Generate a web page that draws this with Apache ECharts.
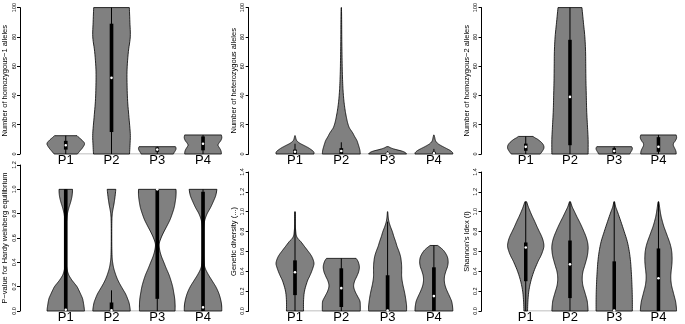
<!DOCTYPE html>
<html>
<head>
<meta charset="utf-8">
<script src="https://cdn.jsdelivr.net/npm/echarts@6/dist/echarts.min.js"></script>
<style>html,body{margin:0;padding:0;background:#fff}#c{width:685px;height:324px}</style>
</head>
<body>
<div id="c"></div>
<script>
// ---------------- DATA ----------------
const categories = ['P1', 'P2', 'P3', 'P4'];

// Violin outlines: [value, relative half-width (1 = widest)]
// Box stats: [lower whisker, Q1, median, Q3, upper whisker]

// Number of homozygous-1 alleles
const hom1P1 = [[0,0.62],[2,0.75],[4,0.88],[6,0.98],[7,1.0],[8,0.97],[10,0.82],[11.5,0.68],[12.5,0.6]];
const hom1P2 = [[0,0.96],[7,0.99],[14,1.0],[25,0.93],[36,0.86],[47,0.83],[58,0.83],[70,0.9],[80,1.0],[90,0.98],[100,0.95]];
const hom1P3 = [[0,0.86],[1,0.9],[2,0.95],[3,0.99],[4,1.0],[5,0.97]];
const hom1P4 = [[0,0.98],[1.5,0.97],[3,0.93],[4.5,0.86],[6,0.8],[7.5,0.85],[9,0.94],[11,1.0],[13,0.98]];
const hom1Box = [[0,3,6,9,12.5],[0,15,52,89,100],[0,1.5,3,4.5,5],[0,2.5,7,12,13]];

// Number of heterozygous alleles
const hetP1 = [[0,1.0],[1,1.0],[2,0.95],[3,0.85],[4,0.74],[5,0.6],[6,0.45],[7,0.3],[8,0.18],[9,0.1],[10,0.06],[11,0.04],[12.5,0.01]];
const hetP2 = [[0,1.0],[2.5,0.98],[5,0.93],[7.5,0.87],[9.3,0.82],[12,0.7],[14,0.62],[16,0.52],[18,0.42],[21,0.34],[25,0.27],[30,0.2],[36,0.14],[42,0.1],[48,0.075],[58,0.05],[70,0.035],[80,0.025],[90,0.02],[100,0.01]];
const hetP3 = [[0,1.0],[1,0.93],[2,0.75],[3,0.45],[4,0.2],[5,0.05]];
const hetP4 = [[0,1.0],[1,0.98],[2,0.9],[3,0.78],[4,0.63],[5,0.48],[6,0.34],[7,0.22],[8,0.14],[9,0.09],[10,0.065],[11.5,0.04],[13,0.01]];
const hetBox = [[0,0,1.5,3,7],[0,0,2,4,8],[0,0,0.3,1,2],[0,0,0.5,1.5,3.5]];

// Number of homozygous-2 alleles
const hom2P1 = [[0,0.8],[2,0.92],[4,1.0],[6,0.98],[8,0.86],[10,0.66],[11,0.52],[12,0.4]];
const hom2P2 = [[0,1.0],[10,1.0],[20,0.96],[30,0.92],[40,0.9],[50,0.88],[60,0.87],[70,0.86],[80,0.82],[90,0.74],[100,0.66]];
const hom2P3 = [[0,0.86],[1,0.9],[2,0.95],[3,0.99],[4,1.0],[5,0.96]];
const hom2P4 = [[0,0.98],[1.5,0.97],[3,0.93],[4.5,0.87],[6,0.82],[7.5,0.84],[9,0.93],[11,1.0],[13,0.98]];
const hom2Box = [[0,2.2,4.9,7.1,12],[0,6,39,78,100],[0,0.5,2,4,5],[0,1.5,4.9,11.5,13]];

// P-value for Hardy weinberg equilibrium
const hweP1 = [[0,1.0],[0.03,0.98],[0.06,0.95],[0.1,0.9],[0.13,0.82],[0.17,0.7],[0.2,0.6],[0.23,0.45],[0.26,0.3],[0.3,0.15],[0.35,0.06],[0.4,0.025],[0.5,0.015],[0.6,0.015],[0.7,0.025],[0.75,0.05],[0.8,0.09],[0.85,0.17],[0.9,0.27],[0.95,0.34],[1.0,0.36]];
const hweP2 = [[0,1.0],[0.03,0.98],[0.07,0.93],[0.1,0.86],[0.14,0.75],[0.18,0.6],[0.22,0.45],[0.26,0.32],[0.3,0.22],[0.35,0.12],[0.4,0.06],[0.45,0.03],[0.55,0.015],[0.7,0.015],[0.78,0.03],[0.82,0.06],[0.87,0.12],[0.93,0.18],[1.0,0.23]];
const hweP3 = [[0,0.95],[0.05,0.95],[0.1,0.93],[0.15,0.88],[0.2,0.82],[0.25,0.73],[0.3,0.62],[0.35,0.48],[0.4,0.35],[0.45,0.22],[0.5,0.13],[0.55,0.1],[0.6,0.2],[0.65,0.35],[0.7,0.52],[0.75,0.68],[0.8,0.8],[0.85,0.9],[0.9,0.96],[0.95,1.0],[1.0,1.0]];
const hweP4 = [[0,1.0],[0.05,0.99],[0.1,0.93],[0.15,0.83],[0.2,0.68],[0.25,0.48],[0.3,0.28],[0.35,0.12],[0.4,0.05],[0.5,0.02],[0.6,0.02],[0.7,0.04],[0.75,0.1],[0.8,0.22],[0.85,0.4],[0.9,0.55],[0.95,0.68],[1.0,0.74]];
const hweBox = [[0,0,0.01,1,1],[0,0,0.005,0.07,0.17],[0,0.1,1.0,1.0,1],[0,0,0.03,0.98,1]];

// Genetic diversity
const gdP1 = [[0,0.45],[0.1,0.45],[0.2,0.5],[0.3,0.65],[0.35,0.77],[0.4,0.88],[0.45,0.97],[0.48,1.0],[0.52,0.95],[0.56,0.85],[0.6,0.7],[0.65,0.5],[0.7,0.3],[0.73,0.15],[0.76,0.07],[0.8,0.04],[0.85,0.02],[0.9,0.01],[1.0,0.005]];
const gdP2 = [[0,1.0],[0.05,1.0],[0.1,0.98],[0.15,0.85],[0.2,0.72],[0.25,0.65],[0.3,0.7],[0.35,0.82],[0.4,0.92],[0.45,0.95],[0.5,0.88],[0.53,0.78]];
const gdP3 = [[0,1.0],[0.05,1.0],[0.1,0.97],[0.15,0.93],[0.2,0.88],[0.25,0.82],[0.3,0.77],[0.35,0.74],[0.4,0.74],[0.45,0.74],[0.5,0.72],[0.55,0.68],[0.6,0.6],[0.65,0.5],[0.7,0.42],[0.75,0.33],[0.8,0.25],[0.85,0.15],[0.9,0.07],[0.95,0.03],[1.0,0.01]];
const gdP4 = [[0,1.0],[0.05,0.98],[0.1,0.93],[0.15,0.82],[0.2,0.7],[0.25,0.6],[0.3,0.55],[0.35,0.56],[0.4,0.63],[0.45,0.72],[0.5,0.75],[0.55,0.7],[0.6,0.55],[0.63,0.4],[0.66,0.2]];
const gdBox = [[0,0.16,0.39,0.51,1.0],[0,0.04,0.23,0.43,0.53],[0,0,0.005,0.36,0.9],[0,0,0.15,0.44,0.66]];

// Shannon's Index
const shP1 = [[0,0.1],[0.1,0.12],[0.2,0.17],[0.3,0.28],[0.4,0.45],[0.5,0.68],[0.55,0.82],[0.6,0.93],[0.65,1.0],[0.7,0.97],[0.75,0.88],[0.8,0.75],[0.85,0.62],[0.9,0.5],[0.95,0.37],[1.0,0.25],[1.05,0.14],[1.1,0.05]];
const shP2 = [[0,1.0],[0.05,0.98],[0.1,0.95],[0.15,0.88],[0.2,0.8],[0.25,0.72],[0.3,0.68],[0.35,0.68],[0.4,0.72],[0.45,0.8],[0.5,0.88],[0.55,0.95],[0.6,0.99],[0.65,1.0],[0.7,0.96],[0.75,0.88],[0.8,0.77],[0.85,0.65],[0.9,0.52],[0.95,0.38],[1.0,0.25],[1.05,0.12],[1.1,0.03]];
const shP3 = [[0,1.0],[0.1,1.0],[0.2,0.99],[0.3,0.97],[0.4,0.94],[0.5,0.9],[0.6,0.83],[0.7,0.72],[0.8,0.55],[0.9,0.37],[1.0,0.18],[1.05,0.08],[1.1,0.02]];
const shP4 = [[0,1.0],[0.05,0.98],[0.1,0.94],[0.15,0.87],[0.2,0.8],[0.25,0.73],[0.3,0.69],[0.35,0.68],[0.4,0.7],[0.45,0.73],[0.5,0.75],[0.55,0.75],[0.6,0.73],[0.65,0.68],[0.7,0.6],[0.75,0.5],[0.8,0.4],[0.85,0.3],[0.9,0.22],[0.95,0.15],[1.0,0.1],[1.05,0.06],[1.1,0.02]];
const shBox = [[0,0.3,0.64,0.69,1.1],[0,0.13,0.47,0.71,1.1],[0,0,0.005,0.5,1.1],[0,0,0.33,0.63,1.1]];

// Axis titles and y ranges
const yTitles = ['Number of homozygous\u22121 alleles', 'Number of heterozygous alleles', 'Number of homozygous\u22122 alleles',
                 'P\u2212value for Hardy weinberg equilibrium', 'Genetic diversity (...)', "Shannon's Idex (I)"];
const yMax = [100, 100, 100, 1.2, 1.4, 1.4];
const yStep = [20, 20, 20, 0.2, 0.2, 0.2];
const yDecimals = [0, 0, 0, 1, 1, 1];

// ---------------- BUILD ----------------
const profiles = [
  [hom1P1, hom1P2, hom1P3, hom1P4],
  [hetP1, hetP2, hetP3, hetP4],
  [hom2P1, hom2P2, hom2P3, hom2P4],
  [hweP1, hweP2, hweP3, hweP4],
  [gdP1, gdP2, gdP3, gdP4],
  [shP1, shP2, shP3, shP4]
];
const boxes = [hom1Box, hetBox, hom2Box, hweBox, gdBox, shBox];

const FONT = 'Liberation Sans, Arial, Helvetica, sans-serif';
const colLeft = [17.5, 248.7, 481.5];
const xMax = 4.6, unitPx = 46.3;
const rowGeom = [
  [{top: 4, height: 150}, {top: 4, height: 150}, {top: 4, height: 150}],
  [{top: 165, height: 146.7}, {top: 172, height: 140}, {top: 172, height: 140}]
];
const HALF = 0.41;   // max half-width in category units
const BOXW = 0.08;   // box width in category units

function catmull(pts, seg) {
  if (pts.length < 3) return pts.slice();
  const out = [];
  for (let i = 0; i < pts.length - 1; i++) {
    const p0 = pts[Math.max(0, i - 1)], p1 = pts[i], p2 = pts[i + 1], p3 = pts[Math.min(pts.length - 1, i + 2)];
    for (let s = 0; s < seg; s++) {
      const t = s / seg, t2 = t * t, t3 = t2 * t;
      const f = (a, b, c, d) => 0.5 * ((2 * b) + (-a + c) * t + (2 * a - 5 * b + 4 * c - d) * t2 + (-a + 3 * b - 3 * c + d) * t3);
      out.push([f(p0[0], p1[0], p2[0], p3[0]), f(p0[1], p1[1], p2[1], p3[1])]);
    }
  }
  out.push(pts[pts.length - 1]);
  return out;
}

const grids = [], xAxes = [], yAxes = [], series = [];
for (let p = 0; p < 6; p++) {
  const row = Math.floor(p / 3), col = p % 3;
  const g = rowGeom[row][col];
  grids.push({left: colLeft[col], top: g.top, width: xMax * unitPx, height: g.height, containLabel: false});
  xAxes.push({
    gridIndex: p, type: 'value', min: 0, max: xMax, interval: 1,
    axisLine: {show: false}, axisTick: {show: false}, splitLine: {show: false},
    axisLabel: {
      show: true, margin: 0, color: '#000', fontFamily: FONT, fontSize: 13,
      showMinLabel: true, showMaxLabel: false,
      formatter: v => (v >= 1 && v <= categories.length) ? categories[Math.round(v) - 1] : ''
    }
  });
  const dec = yDecimals[p];
  yAxes.push({
    gridIndex: p, type: 'value', min: 0, max: yMax[p], interval: yStep[p],
    name: yTitles[p], nameLocation: 'middle', nameGap: 11, nameRotate: 90,
    nameTextStyle: {color: '#000', fontFamily: FONT, fontSize: 7.5},
    axisLine: {show: true, lineStyle: {color: '#000', width: 1}},
    axisTick: {show: true, length: 3, lineStyle: {color: '#000', width: 1}},
    splitLine: {show: false},
    axisLabel: {show: true, rotate: 90, margin: 3, color: '#000', fontFamily: FONT, fontSize: 5.5,
      formatter: v => Number(v).toFixed(dec)}
  });
  // baseline between first and last category
  series.push({
    type: 'line', xAxisIndex: p, yAxisIndex: p, silent: true, symbol: 'none', z: 1,
    lineStyle: {color: '#a8a8a8', width: 1}, animation: false,
    data: [[1, 0], [categories.length, 0]]
  });
  const prof = profiles[p], bx = boxes[p];
  series.push({
    type: 'custom', xAxisIndex: p, yAxisIndex: p, z: 2, animation: false, silent: true,
    encode: {x: 0, y: 1},
    data: categories.map((c, i) => [i + 1, bx[i][2]]),
    renderItem: function (params, api) {
      const i = params.dataIndex;
      const x = api.value(0);
      const pr = prof[i];
      const left = pr.map(d => api.coord([x - d[1] * HALF, d[0]]));
      const right = pr.map(d => api.coord([x + d[1] * HALF, d[0]]));
      const L = catmull(left, 6), R = catmull(right, 6).reverse();
      const poly = L.concat(R);
      const b = bx[i];
      const bw = api.size([BOXW, 0])[0];
      const lo = api.coord([x, b[0]]), q1 = api.coord([x, b[1]]), md = api.coord([x, b[2]]),
            q3 = api.coord([x, b[3]]), hi = api.coord([x, b[4]]);
      return {
        type: 'group',
        children: [
          {type: 'polygon', shape: {points: poly}, style: {fill: '#808080', stroke: '#000', lineWidth: 0.8}},
          {type: 'line', shape: {x1: lo[0], y1: lo[1], x2: hi[0], y2: hi[1]}, style: {stroke: '#000', lineWidth: 1}},
          {type: 'rect', shape: {x: q1[0] - bw / 2, y: q3[1], width: bw, height: Math.max(q1[1] - q3[1], 1)}, style: {fill: '#000'}},
          {type: 'circle', shape: {cx: md[0], cy: md[1], r: 1.3}, style: {fill: '#fff'}}
        ]
      };
    }
  });
}

const chart = echarts.init(document.getElementById('c'), null, {renderer: 'canvas'});
chart.setOption({
  animation: false,
  backgroundColor: '#fff',
  grid: grids, xAxis: xAxes, yAxis: yAxes, series: series
});
</script>
</body>
</html>
